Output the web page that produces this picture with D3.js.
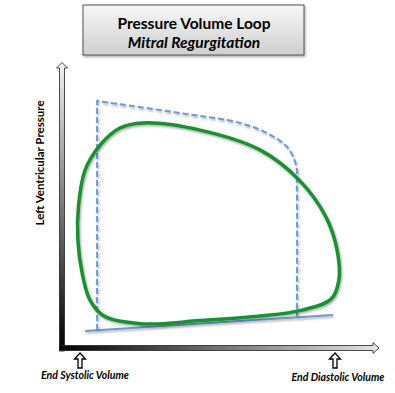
<!DOCTYPE html>
<html>
<head>
<meta charset="utf-8">
<style>
body { margin: 0; background: #fff; }
svg text { font-family: Lato, "Open Sans", sans-serif; }
</style>
</head>
<body>
<svg id="chart" width="395" height="393"></svg>
<script src="https://cdn.jsdelivr.net/npm/d3@7"></script>
<script>

// volume / pressure in arbitrary units (no ticks on the original)
var loopVolume   = [27, 46, 66, 79, 88, 91.7, 92.3, 89.7, 80, 66, 46, 27, 14, 9.3, 6.7, 5.3, 5.5, 7.7, 12.7, 19.3]
var loopPressure = [75.7, 73.3, 66.7, 56.7, 44.3, 33.3, 23.3, 17, 13.3, 11.3, 9.8, 8.7, 11.3, 16.7, 25.7, 36.7, 48, 60, 68.3, 74]

var normVolume   = [11.7, 11.7, 39.3, 59.3, 68.3, 75, 78, 78.3, 78.3]
var normPressure = [6.7, 83, 79, 75.7, 72.3, 67.7, 61.7, 53.3, 11.3]

var edpvrVolume   = [7.7, 90.3]
var edpvrPressure = [6.3, 11.7]

var titleLines  = ["Pressure Volume Loop", "Mitral Regurgitation"]
var yLabel      = "Left Ventricular Pressure"
var markVolume  = [6, 91]
var markLabels  = ["End Systolic Volume", "End Diastolic Volume"]

var svg = d3.select("#chart")

var x = d3.scaleLinear().domain([0, 100]).range([62, 362])
var y = d3.scaleLinear().domain([0, 100]).range([350, 50])

var defs = svg.append("defs")

var g1 = defs.append("linearGradient").attr("id", "ygrad")
  .attr("x1", 0).attr("y1", 0).attr("x2", 0).attr("y2", 1)
g1.append("stop").attr("offset", "0%").attr("stop-color", "#f2f2f2")
g1.append("stop").attr("offset", "100%").attr("stop-color", "#000")

var g2 = defs.append("linearGradient").attr("id", "xgrad")
  .attr("x1", 0).attr("y1", 0).attr("x2", 1).attr("y2", 0)
g2.append("stop").attr("offset", "0%").attr("stop-color", "#000")
g2.append("stop").attr("offset", "100%").attr("stop-color", "#e6e6e6")

var g3 = defs.append("linearGradient").attr("id", "boxgrad")
  .attr("x1", 0).attr("y1", 0).attr("x2", 0).attr("y2", 1)
g3.append("stop").attr("offset", "0%").attr("stop-color", "#f7f7f7")
g3.append("stop").attr("offset", "100%").attr("stop-color", "#cfcfcf")

var shadow = defs.append("filter").attr("id", "shadow")
  .attr("x", "-10%").attr("y", "-10%").attr("width", "130%").attr("height", "130%")
shadow.append("feDropShadow").attr("dx", 1).attr("dy", 1.5).attr("stdDeviation", 1)
  .attr("flood-color", "#000").attr("flood-opacity", 0.35)

// title box
svg.append("rect")
  .attr("x", 83).attr("y", 5).attr("width", 221).attr("height", 50)
  .attr("fill", "url(#boxgrad)").attr("stroke", "#555").attr("stroke-width", 1)
  .attr("filter", "url(#shadow)")

svg.selectAll(".title").data(titleLines).enter().append("text")
  .attr("class", "title")
  .attr("x", 194)
  .attr("y", function(d, i){ return 29 + i*19 })
  .attr("text-anchor", "middle")
  .attr("font-size", "15.5px")
  .attr("font-weight", "bold")
  .attr("font-style", function(d, i){ return i == 1 ? "italic" : "normal" })
  .text(function(d){ return d })

// axes as block arrows
svg.append("path")
  .attr("d", "M59.5,351 L59.5,68 L56.5,68 L62,62.5 L67.5,68 L64.5,68 L64.5,351 Z")
  .attr("fill", "url(#ygrad)").attr("stroke", "#222").attr("stroke-width", 0.8)

svg.append("path")
  .attr("d", "M59.5,345.5 L373,345.5 L373,342.5 L379,348 L373,353.5 L373,350.5 L59.5,350.5 Z")
  .attr("fill", "url(#xgrad)").attr("stroke", "#222").attr("stroke-width", 0.8)

svg.append("text")
  .attr("transform", "translate(44,163) rotate(-90)")
  .attr("text-anchor", "middle")
  .attr("font-size", "11.5px")
  .attr("font-weight", "bold")
  .text(yLabel)

// little marker arrows under the volume axis
svg.selectAll(".mark").data(markVolume).enter().append("path")
  .attr("class", "mark")
  .attr("d", function(d){
    var cx = x(d)
    return "M" + (cx-2) + ",368 L" + (cx-2) + ",359 L" + (cx-5.5) + ",359 L" + cx + ",353 L" +
      (cx+5.5) + ",359 L" + (cx+2) + ",359 L" + (cx+2) + ",368 Z"
  })
  .attr("fill", "#fff").attr("stroke", "#000").attr("stroke-width", 1.3)

svg.selectAll(".marklabel").data(markLabels).enter().append("text")
  .attr("class", "marklabel")
  .attr("x", function(d, i){ return x(markVolume[i]) + (i == 0 ? 5 : 3) })
  .attr("y", function(d, i){ return i == 0 ? 379 : 381 })
  .attr("text-anchor", "middle")
  .attr("font-size", "10.5px")
  .attr("font-weight", "bold")
  .attr("font-style", "italic")
  .text(function(d){ return d })

var line = d3.line()
  .x(function(d){ return x(d[0]) })
  .y(function(d){ return y(d[1]) })

// filling line along the bottom
var edpvr = d3.zip(edpvrVolume, edpvrPressure)
svg.append("path")
  .attr("d", line(edpvr))
  .attr("fill", "none").attr("stroke", "#6a9bd3").attr("stroke-width", 2)
  .attr("filter", "url(#shadow)")

// normal loop, dashed
var norm = d3.zip(normVolume, normPressure)
svg.append("path")
  .attr("d", line(norm.slice(0, 2)) + line.curve(d3.curveCatmullRom)(norm.slice(1)).replace(/^M/, "L"))
  .attr("fill", "none").attr("stroke", "#6a9bd3").attr("stroke-width", 2)
  .attr("stroke-dasharray", "6,3")
  .attr("filter", "url(#shadow)")

// mitral regurgitation loop
var loop = d3.zip(loopVolume, loopPressure)
svg.append("path")
  .attr("d", line.curve(d3.curveCatmullRomClosed)(loop))
  .attr("fill", "none").attr("stroke", "#17922f").attr("stroke-width", 3.5)
  .attr("filter", "url(#shadow)")

</script>
</body>
</html>
